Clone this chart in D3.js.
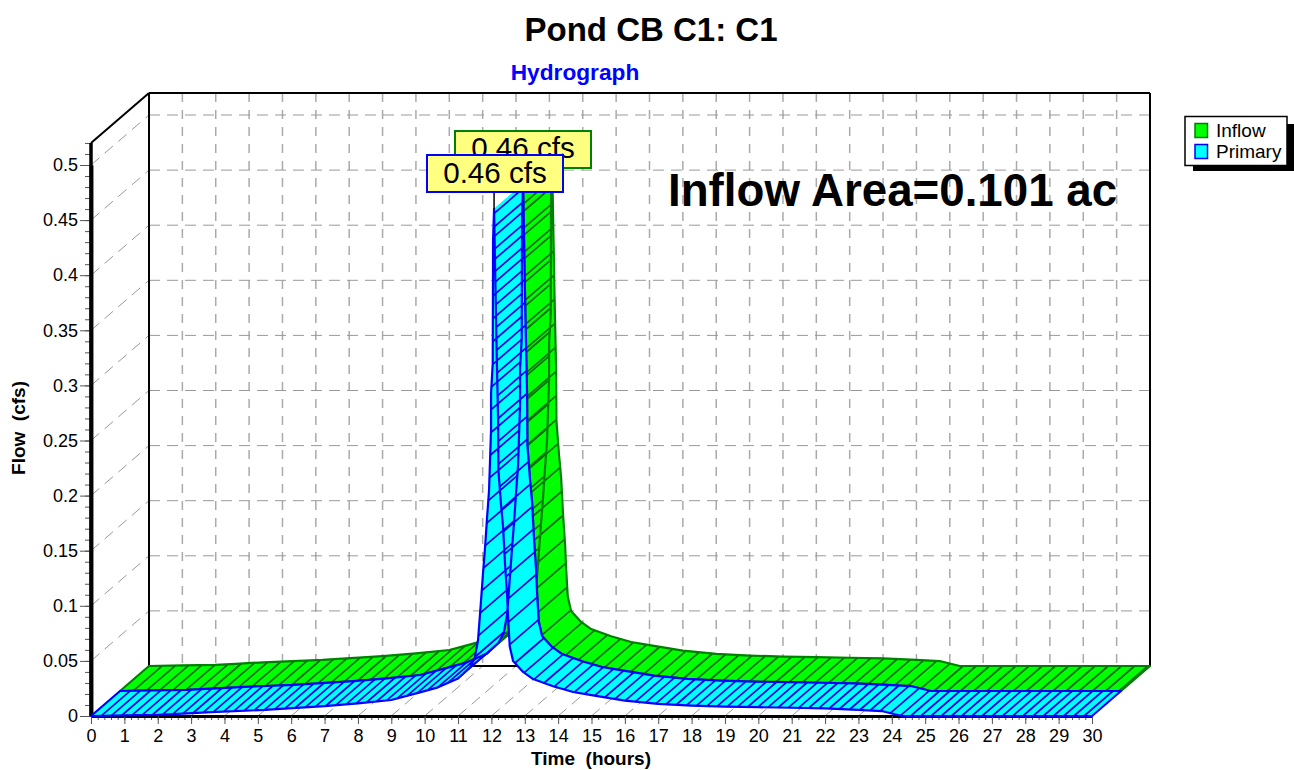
<!DOCTYPE html>
<html>
<head>
<meta charset="utf-8">
<script src="https://cdn.jsdelivr.net/npm/d3@7"></script>
<style>
  html, body { margin: 0; padding: 0; background: #fff; }
  svg { display: block; }
  text { font-family: "Liberation Sans", Arial, sans-serif; white-space: pre; }
</style>
</head>
<body>
<svg id="chart" width="1294" height="770"></svg>
<script>
// Values
const hours = [0, 1, 2, 2.6, 3.6, 5.2, 7, 8, 9, 9.8, 10.4, 11, 11.35, 11.5, 11.6, 11.69, 11.75, 11.81, 11.87, 11.93, 11.99, 11.99, 12.04, 12.05, 12.08,
  12.15, 12.2, 12.21, 12.29, 12.35, 12.41, 12.47, 12.5, 12.55, 12.65, 12.95, 13.25, 13.85, 14.45, 15, 16, 17, 18, 19, 20, 21, 22, 23, 23.7, 24.3, 30];
const flow = [0, 0.0005, 0.001, 0.002, 0.0036, 0.0055, 0.009, 0.0115, 0.0145, 0.021, 0.026, 0.034, 0.044, 0.0526, 0.069, 0.105, 0.13, 0.153, 0.18, 0.205, 0.26, 0.293, 0.32, 0.432, 0.46,
  0.341, 0.27, 0.223, 0.191, 0.1715, 0.137, 0.11, 0.089, 0.063, 0.05, 0.04, 0.0335, 0.027, 0.0218, 0.019, 0.014, 0.011, 0.0095, 0.0085, 0.008, 0.0075, 0.007, 0.0055, 0.0045, 0, 0];
const xTicks = d3.range(0, 31);
const yTicks = d3.range(0, 11).map(d => d * 0.05);
const seriesNames = ["Inflow", "Primary"];
const peakLabel = "0.46 cfs";

const svg = d3.select("#chart");

// Front plane of the 3D box, the back wall sits at depth offset
const x = d3.scaleLinear().domain([0, 30]).range([91, 1092]);
const y = d3.scaleLinear().domain([0, 0.5]).range([716, 165]);
const yTopValue = 0.52;
const depthX = 58;
const depthY = 50;

const backX = t => x(t) + depthX;
const backY = v => y(v) - depthY;

// Grid
const gridColor = "#aaaaaa";
const grid = svg.append("g");

xTicks.slice(1, 30).forEach(t => {
  grid.append("line")
    .attr("x1", backX(t)).attr("x2", backX(t))
    .attr("y1", backY(yTopValue)).attr("y2", backY(0))
    .attr("stroke", gridColor).attr("stroke-width", 1.5).attr("stroke-dasharray", "9 8");
});
yTicks.slice(1).forEach(v => {
  grid.append("line")
    .attr("x1", backX(0)).attr("x2", backX(30))
    .attr("y1", backY(v)).attr("y2", backY(v))
    .attr("stroke", "#999999").attr("stroke-width", 1).attr("stroke-dasharray", "11 7");
  // left wall
  grid.append("line")
    .attr("x1", x(0)).attr("x2", backX(0))
    .attr("y1", y(v)).attr("y2", backY(v))
    .attr("stroke", "#999999").attr("stroke-width", 1).attr("stroke-dasharray", "11 7");
});
xTicks.slice(0, 30).forEach(t => {
  // floor
  grid.append("line")
    .attr("x1", x(t)).attr("x2", backX(t))
    .attr("y1", y(0)).attr("y2", backY(0))
    .attr("stroke", "#999999").attr("stroke-width", 1).attr("stroke-dasharray", "11 7");
});

// Box frame
const frame = svg.append("g").attr("stroke", "#000").attr("fill", "none");
frame.append("line").attr("x1", backX(0)).attr("x2", backX(0)).attr("y1", backY(yTopValue)).attr("y2", backY(0)).attr("stroke-width", 2);
frame.append("line").attr("x1", backX(0)).attr("x2", backX(30)).attr("y1", backY(yTopValue)).attr("y2", backY(yTopValue)).attr("stroke-width", 2);
frame.append("line").attr("x1", backX(30)).attr("x2", backX(30)).attr("y1", backY(yTopValue)).attr("y2", backY(0)).attr("stroke-width", 2);
frame.append("line").attr("x1", backX(0)).attr("x2", backX(30)).attr("y1", backY(0)).attr("y2", backY(0)).attr("stroke-width", 2);
frame.append("line").attr("x1", x(0)).attr("x2", backX(0)).attr("y1", y(yTopValue)).attr("y2", backY(yTopValue)).attr("stroke-width", 2);

// Axes: major and minor ticks
const xAxisMinor = d3.axisBottom(x).tickValues(d3.range(0, 150.5).map(d => d / 5)).tickSize(4).tickSizeOuter(0).tickFormat("");
const xAxisMajor = d3.axisBottom(x).tickValues(xTicks).tickSize(8).tickSizeOuter(0).tickPadding(5).tickFormat(d3.format("d"));
const yAxisMinor = d3.axisLeft(y).tickValues(d3.range(0, 52.5).map(d => d / 100)).tickSize(6).tickSizeOuter(0).tickFormat("");
const yAxisMajor = d3.axisLeft(y).tickValues(yTicks).tickSize(11).tickSizeOuter(0).tickPadding(2).tickFormat(d => d === 0 ? "0" : d3.format(".3~f")(d));

function styleAxis(g, w) {
  g.selectAll("path").attr("stroke", "#000").attr("stroke-width", w);
  g.selectAll("line").attr("stroke", "#555").attr("stroke-width", 1);
  g.selectAll("text").attr("font-size", 18).attr("fill", "#000")
    .attr("font-family", '"Liberation Sans", Arial, sans-serif');
}
svg.append("g").attr("transform", `translate(0,${y(0)})`).call(xAxisMinor).call(styleAxis, 3);
svg.append("g").attr("transform", `translate(0,${y(0)})`).call(xAxisMajor).call(styleAxis, 3);
svg.append("g").attr("transform", `translate(${x(0)},0)`).call(yAxisMinor).call(styleAxis, 3.5);
svg.append("g").attr("transform", `translate(${x(0)},0)`).call(yAxisMajor).call(styleAxis, 3.5);
// axis line runs on above 0.5 up to the box corner
svg.append("line").attr("x1", x(0)).attr("x2", x(0)).attr("y1", y(0)).attr("y2", y(yTopValue))
  .attr("stroke", "#000").attr("stroke-width", 3.5);

// Ribbon of one series: top surface between two depth positions
function drawRibbon(depthFrom, depthTo, fill, stroke, hatchColor, spacing, steepWeight) {
  const front = hours.map((t, i) => [x(t) + depthX * depthFrom, y(flow[i]) - depthY * depthFrom]);
  const back = hours.map((t, i) => [x(t) + depthX * depthTo, y(flow[i]) - depthY * depthTo]);

  // one quad per time step so the rising and falling limbs both stay filled where they cross
  const fills = svg.append("g").attr("fill", fill).attr("stroke", fill).attr("stroke-width", 0.5);
  for (let i = 1; i < front.length; i++) {
    fills.append("path").attr("d", d3.line()([front[i - 1], front[i], back[i], back[i - 1]]) + "Z");
  }

  // hatch lines run front to back, stepped along the curve, steep parts are spaced wider
  const hatch = svg.append("g").attr("stroke", hatchColor).attr("stroke-width", 1.7);
  let walked = 0;
  for (let i = 1; i < front.length; i++) {
    const dx = front[i][0] - front[i - 1][0];
    const dy = front[i][1] - front[i - 1][1];
    const len = Math.sqrt(dx * dx + steepWeight * dy * dy);
    while (len > 0 && walked + spacing <= len) {
      walked += spacing;
      const px = front[i - 1][0] + dx * walked / len;
      const py = front[i - 1][1] + dy * walked / len;
      hatch.append("line")
        .attr("x1", px).attr("y1", py)
        .attr("x2", px + depthX * (depthTo - depthFrom)).attr("y2", py - depthY * (depthTo - depthFrom));
    }
    walked -= len;
  }

  const outline = d3.line()(front.concat(back.slice().reverse())) + "Z";
  svg.append("path").attr("d", outline).attr("fill", "none")
    .attr("stroke", stroke).attr("stroke-width", 2.2).attr("stroke-linejoin", "round");
}

drawRibbon(0.5, 1, "#00ff00", "#008000", "#0a6b0a", 13.2, 0.3);
drawRibbon(0, 0.5, "#00ffff", "#0000ff", "#0000e0", 10.2, 0.2);

// Peak labels
function peakBox(bx, by, w, h, stroke, baseline) {
  svg.append("rect").attr("x", bx).attr("y", by).attr("width", w).attr("height", h)
    .attr("fill", "#ffff80").attr("stroke", stroke).attr("stroke-width", 2);
  svg.append("text").attr("x", bx + w / 2).attr("y", baseline)
    .attr("text-anchor", "middle").attr("font-size", 29.6).attr("fill", "#000").text(peakLabel);
}
const peakT = hours[flow.indexOf(d3.max(flow))];
svg.append("line").attr("x1", x(peakT)).attr("x2", x(peakT)).attr("y1", y(0.46)).attr("y2", 190).attr("stroke", "#000").attr("stroke-width", 1.5);
peakBox(455, 131, 136, 37, "#008000", 158);
peakBox(427, 155, 136, 37, "#0000ff", 183);

// Titles
svg.append("text").attr("x", 651).attr("y", 41).attr("text-anchor", "middle")
  .attr("font-size", 33).attr("font-weight", "bold").text("Pond CB C1: C1");
svg.append("text").attr("x", 575).attr("y", 80).attr("text-anchor", "middle")
  .attr("font-size", 22.7).attr("font-weight", "bold").attr("fill", "#0000ff").text("Hydrograph");
svg.append("text").attr("x", 668).attr("y", 206)
  .attr("font-size", 45.7).attr("font-weight", "bold").text("Inflow Area=0.101 ac");
svg.append("text").attr("transform", "translate(25,428) rotate(-90)").attr("text-anchor", "middle")
  .attr("font-size", 19).attr("font-weight", "bold").text("Flow  (cfs)");
svg.append("text").attr("x", 591).attr("y", 765).attr("text-anchor", "middle")
  .attr("font-size", 19).attr("font-weight", "bold").text("Time  (hours)");

// Legend
const legend = svg.append("g");
legend.append("rect").attr("x", 1193).attr("y", 124).attr("width", 101).attr("height", 47).attr("fill", "#000");
legend.append("rect").attr("x", 1185).attr("y", 116.5).attr("width", 102).attr("height", 49)
  .attr("fill", "#fff").attr("stroke", "#000").attr("stroke-width", 1.5);
const legendFill = ["#00ff00", "#00ffff"];
const legendStroke = ["#008000", "#0000ff"];
seriesNames.forEach((name, i) => {
  legend.append("rect").attr("x", 1195).attr("y", 123.5 + i * 21).attr("width", 12.5).attr("height", 14)
    .attr("fill", legendFill[i]).attr("stroke", legendStroke[i]).attr("stroke-width", 1.5);
  legend.append("text").attr("x", 1216).attr("y", 137 + i * 21).attr("font-size", 19).text(name);
});
</script>
</body>
</html>
